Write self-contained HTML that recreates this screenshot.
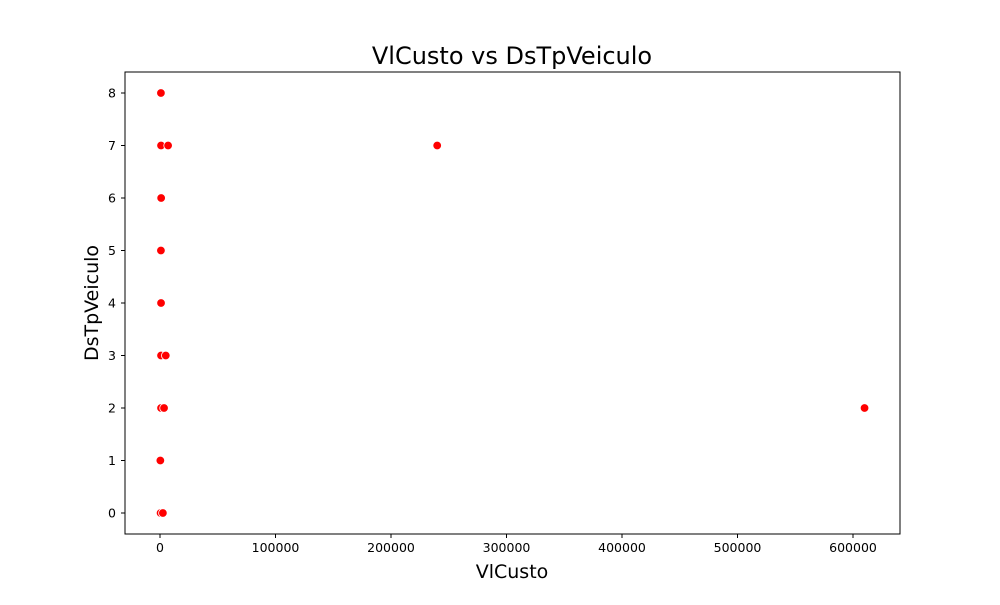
<!DOCTYPE html>
<html><head><meta charset="utf-8"><style>body{margin:0;background:#fff}svg{font-family:"DejaVu Sans","Liberation Sans",sans-serif}</style></head>
<body>
<svg id="chart" width="1000" height="600">
<rect width="1000" height="600" fill="#fff"/>
<text x="512" y="64" font-size="24" text-anchor="middle">VlCusto vs DsTpVeiculo</text>
<g id="ticks"></g>
<g id="pts"></g>
<rect x="125" y="72" width="775" height="462" fill="none" stroke="#000" stroke-width="1"/>
<text x="512" y="578" font-size="19" text-anchor="middle">VlCusto</text>
<text transform="translate(98,303) rotate(-90)" font-size="19" text-anchor="middle">DsTpVeiculo</text>
</svg>
<script>
const xVals=[800,900,7000,1000,800,900,500,900,5000,900,3500,300,500,2500,240000,610000];
const yVals=[8,7,7,6,5,4,3,3,3,2,2,1,0,0,7,2];
const xTicks=[0,100000,200000,300000,400000,500000,600000];
const yTicks=[0,1,2,3,4,5,6,7,8];
const NS="http://www.w3.org/2000/svg";
function xs(v){return 160+v*(853-160)/600000;}
function ys(v){return 513-v*(513-93)/8;}
const tg=document.getElementById('ticks');
function mk(t,a,p){const e=document.createElementNS(NS,t);for(const k in a)e.setAttribute(k,a[k]);p.appendChild(e);return e;}
xTicks.forEach(t=>{const x=xs(t);
const l=mk('line',{x1:x,x2:x,y1:534,y2:538,stroke:'#000'},tg);


const s=mk('text',{x:x,y:552,'font-size':12.5,'text-anchor':'middle'},tg);s.textContent=t;

});
yTicks.forEach(t=>{const y=ys(t);
const l=mk('line',{x1:121,x2:125,y1:y,y2:y,stroke:'#000'},tg);


const s=mk('text',{x:116,y:y+4.5,'font-size':12.5,'text-anchor':'end'},tg);s.textContent=t;

});
const pg=document.getElementById('pts');
xVals.forEach((v,i)=>{const c=mk('circle',{cx:xs(v),cy:ys(yVals[i]),r:4.3,fill:'#ff0000',stroke:'#fff','stroke-width':0.8},pg);

});
</script>
</body></html>
